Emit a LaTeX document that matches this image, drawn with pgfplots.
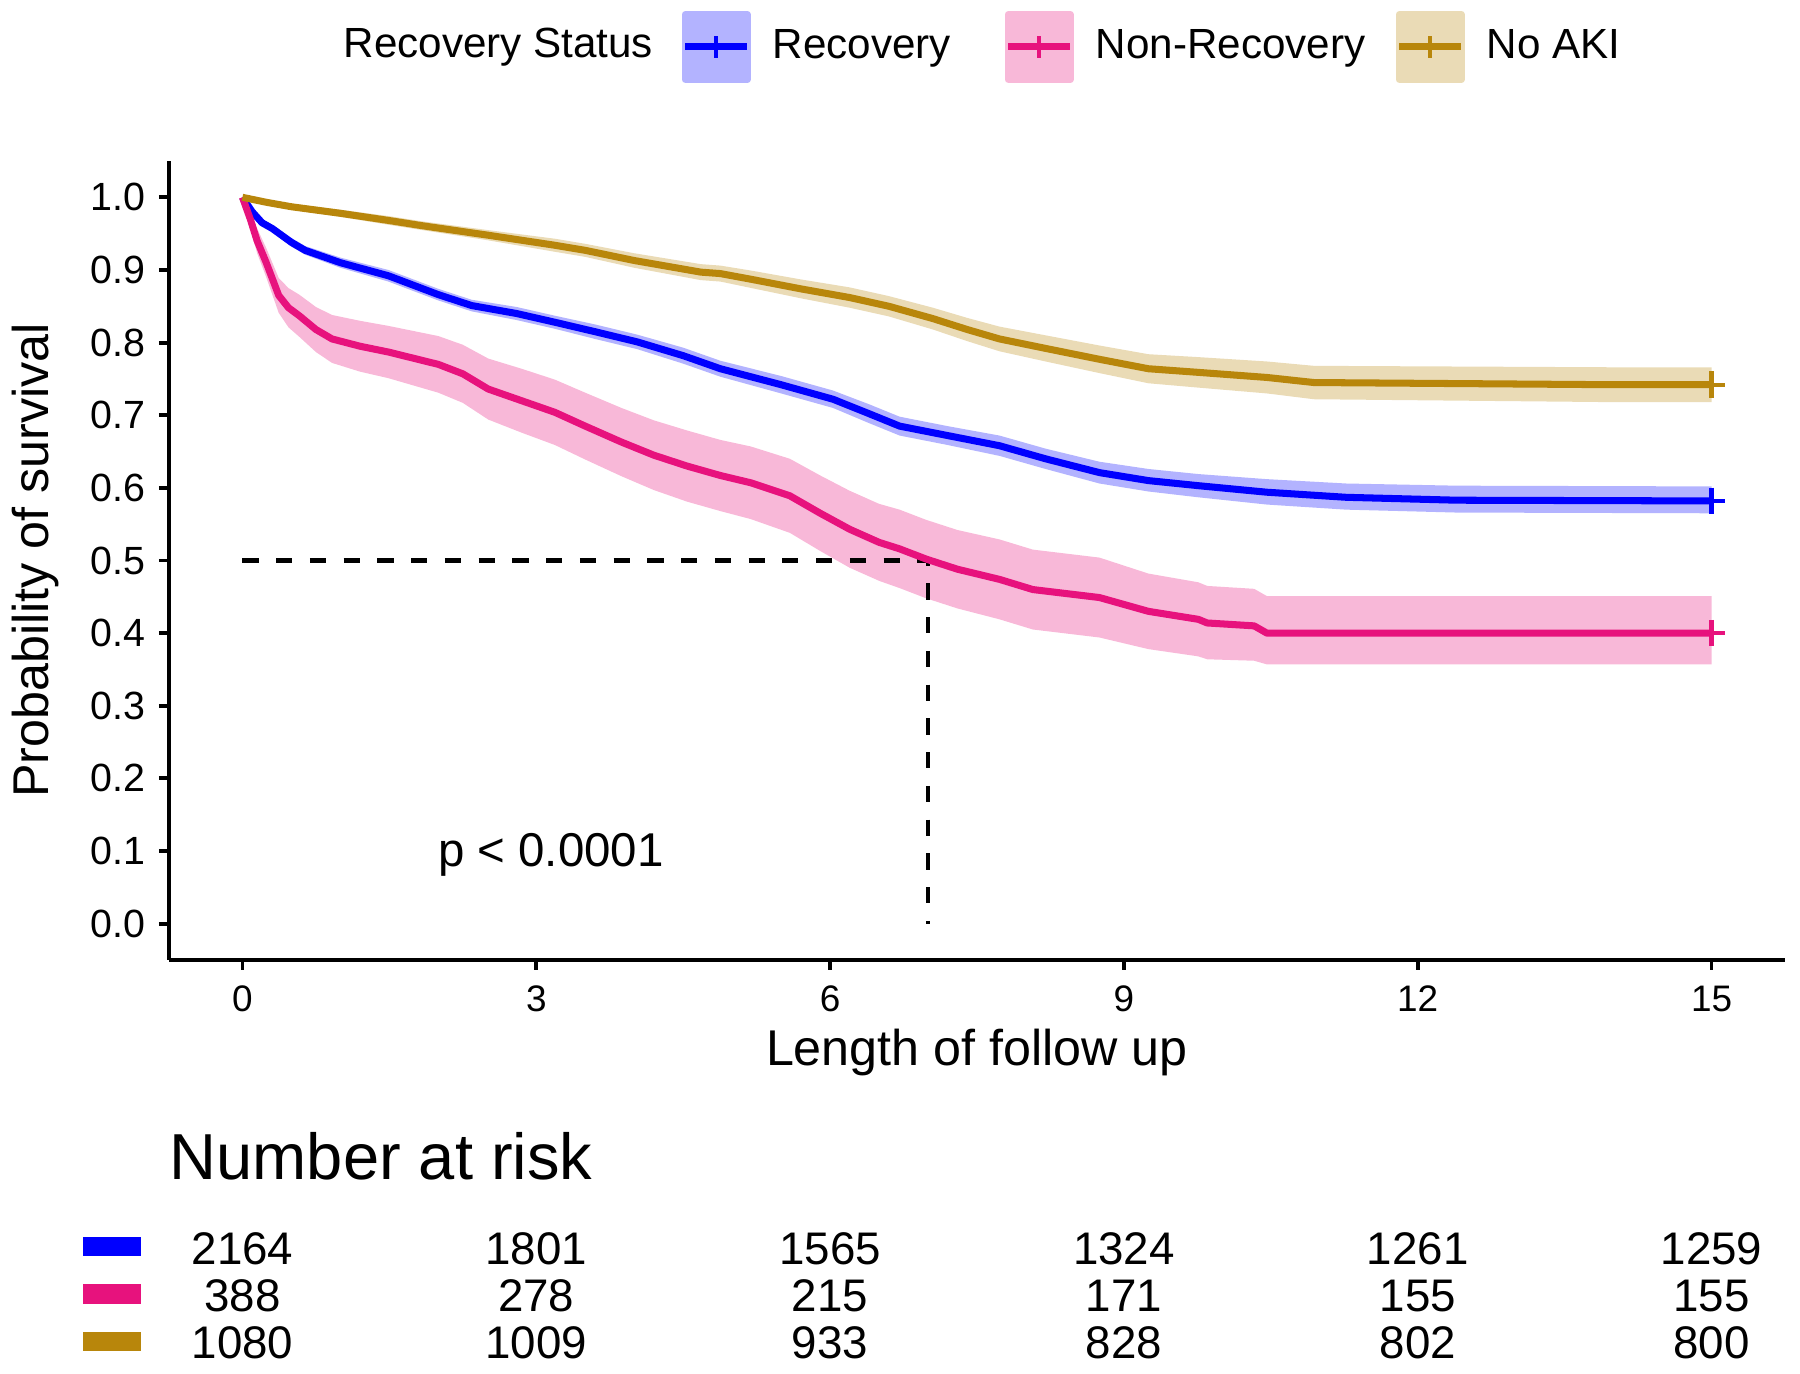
\documentclass[border=0pt]{standalone}
\usepackage{pgfplots}
\pgfplotsset{compat=1.18}
\usepgfplotslibrary{fillbetween}
\usepackage{pgfplotstable}
\usepackage{fontspec}
\setmainfont{Liberation Sans}
\definecolor{cblue}{HTML}{0000FF}
\definecolor{cpink}{HTML}{E7127D}
\definecolor{cgold}{HTML}{B8860B}
\definecolor{cblueband}{HTML}{B3B3FF}
\definecolor{cpinkband}{HTML}{F8B8D8}
\definecolor{cgoldband}{HTML}{EADBB6}

\pgfplotstableread{
t s lo hi
0 1.000 1.000 1.000
0.1 0.980 0.977 0.983
0.2 0.965 0.961 0.969
0.305 0.957 0.952 0.962
0.5 0.938 0.932 0.944
0.64 0.927 0.921 0.933
1.0 0.910 0.903 0.917
1.49 0.892 0.884 0.900
2.0 0.866 0.858 0.874
2.34 0.851 0.843 0.859
2.8 0.840 0.831 0.849
3.19 0.828 0.819 0.837
3.6 0.815 0.805 0.825
4.03 0.801 0.791 0.811
4.5 0.782 0.771 0.793
4.88 0.764 0.753 0.775
5.5 0.742 0.730 0.754
6.03 0.722 0.710 0.734
6.4 0.702 0.689 0.715
6.71 0.685 0.672 0.698
7.2 0.672 0.659 0.685
7.73 0.658 0.644 0.672
8.2 0.640 0.626 0.654
8.75 0.621 0.606 0.636
9.25 0.610 0.595 0.626
9.76 0.603 0.587 0.619
10.46 0.594 0.577 0.612
11.27 0.587 0.570 0.606
12.4 0.583 0.566 0.603
15 0.582 0.565 0.602
}\tblue

\pgfplotstableread{
t s lo hi
0 1.000 1.000 1.000
0.08 0.970 0.958 0.982
0.15 0.940 0.923 0.957
0.24 0.911 0.891 0.931
0.37 0.865 0.841 0.889
0.47 0.848 0.821 0.875
0.58 0.837 0.808 0.866
0.75 0.818 0.787 0.849
0.915 0.805 0.772 0.838
1.2 0.795 0.760 0.830
1.49 0.787 0.751 0.823
2.0 0.770 0.731 0.809
2.25 0.757 0.717 0.797
2.51 0.736 0.694 0.778
2.85 0.720 0.676 0.764
3.19 0.704 0.659 0.749
3.5 0.685 0.639 0.731
3.87 0.663 0.616 0.710
4.2 0.645 0.597 0.693
4.54 0.630 0.581 0.679
4.88 0.617 0.568 0.666
5.19 0.607 0.557 0.657
5.59 0.589 0.538 0.640
5.9 0.565 0.513 0.617
6.2 0.543 0.490 0.596
6.5 0.525 0.472 0.578
6.71 0.516 0.462 0.570
6.98 0.502 0.448 0.556
7.3 0.488 0.434 0.542
7.73 0.474 0.419 0.529
8.07 0.460 0.405 0.515
8.75 0.449 0.394 0.504
9.25 0.430 0.378 0.482
9.76 0.419 0.368 0.470
9.85 0.414 0.364 0.465
10.33 0.410 0.362 0.461
10.46 0.400 0.357 0.451
15 0.400 0.357 0.451
}\tpink

\pgfplotstableread{
t s lo hi
0 1.000 1.000 1.000
0.25 0.993 0.990 0.996
0.5 0.987 0.983 0.991
1.0 0.978 0.973 0.983
1.5 0.968 0.962 0.974
1.83 0.961 0.955 0.967
2.5 0.948 0.941 0.955
3.19 0.934 0.925 0.943
3.5 0.927 0.918 0.936
4.0 0.913 0.903 0.923
4.68 0.897 0.886 0.908
4.88 0.895 0.884 0.906
5.2 0.887 0.875 0.899
5.7 0.874 0.861 0.887
6.2 0.862 0.848 0.876
6.6 0.850 0.836 0.864
7.05 0.833 0.818 0.848
7.4 0.818 0.802 0.834
7.73 0.805 0.788 0.822
8.2 0.792 0.774 0.810
8.75 0.777 0.758 0.796
9.25 0.764 0.744 0.784
9.76 0.759 0.738 0.780
10.46 0.752 0.730 0.774
10.94 0.745 0.722 0.768
14.0 0.742 0.718 0.766
15 0.742 0.718 0.766
}\tgold

\begin{document}
\begin{tikzpicture}
\path (0,0) rectangle (18cm,13.73cm);
\begin{axis}[
  at={(1.69cm,4.13cm)}, anchor=south west,
  scale only axis, width=16.16cm, height=7.99cm,
  xmin=-0.75, xmax=15.75, ymin=-0.05, ymax=1.05,
  axis x line*=bottom, axis y line*=left,
  axis line style={line width=1.1pt, black},
  tick align=outside, major tick length=0.1cm,
  tick style={line width=1.1pt, black},
  xtick={0,3,6,9,12,15},
  ytick={0,0.1,0.2,0.3,0.4,0.5,0.6,0.7,0.8,0.9,1.0},
  /pgf/number format/assume math mode=true,
  ticklabel style={inner sep=0pt},
  xticklabel style={anchor=north, yshift=-0.15cm, font=\fontsize{10.5}{12}\selectfont},
  yticklabel style={anchor=east, xshift=-0.13cm, font=\fontsize{11.2}{13}\selectfont,
    /pgf/number format/fixed, /pgf/number format/fixed zerofill, /pgf/number format/precision=1},
  xlabel={Length of follow up},
  ylabel={Probability of survival},
  xlabel style={at={(axis description cs:0.5,-0.116)}, anchor=center, font=\fontsize{14.3}{17}\selectfont, inner sep=0pt},
  ylabel style={at={(axis description cs:-0.0829,0.5)}, anchor=center, font=\fontsize{14.3}{17}\selectfont, inner sep=0pt},
  clip=false,
  legend columns=3,
  legend cell align=left,
  legend style={at={(axis description cs:0.3168,1.1427)}, anchor=west, draw=none, fill=none, inner sep=0pt,
    font=\fontsize{12}{14}\selectfont, nodes={inner sep=0pt},
    /tikz/every odd column/.append style={column sep=0.22cm}},
]
% confidence bands
\addplot[draw=none, name path=bhi, forget plot] table[x=t,y=hi]{\tblue};
\addplot[draw=none, name path=blo, forget plot] table[x=t,y=lo]{\tblue};
\addplot[fill=cblueband, draw=none, forget plot] fill between[of=bhi and blo];
\addplot[draw=none, name path=phi, forget plot] table[x=t,y=hi]{\tpink};
\addplot[draw=none, name path=plo, forget plot] table[x=t,y=lo]{\tpink};
\addplot[fill=cpinkband, draw=none, forget plot] fill between[of=phi and plo];
\addplot[draw=none, name path=ghi, forget plot] table[x=t,y=hi]{\tgold};
\addplot[draw=none, name path=glo, forget plot] table[x=t,y=lo]{\tgold};
\addplot[fill=cgoldband, draw=none, forget plot] fill between[of=ghi and glo];

% median lines
\addplot[black, line width=1.3pt, dash pattern=on 4.6pt off 5.0pt, forget plot] coordinates {(0,0.5) (7,0.5) (7,0)};

% survival curves
\addplot[cblue, line width=2pt, line join=round,
  legend image code/.code={\fill[cblueband] (0cm,-0.325cm) rectangle (0.62cm,0.325cm);
    \draw[cblue,line width=2pt] (0cm,0cm) -- (0.62cm,0cm);
    \draw[cblue,line width=1.1pt] (0.31cm,-0.11cm) -- (0.31cm,0.11cm);}]
  table[x=t,y=s]{\tblue};
\addlegendentry{\makebox[2.32cm][l]{Recovery}}
\addplot[cpink, line width=2pt, line join=round,
  legend image code/.code={\fill[cpinkband] (0cm,-0.325cm) rectangle (0.62cm,0.325cm);
    \draw[cpink,line width=2pt] (0cm,0cm) -- (0.62cm,0cm);
    \draw[cpink,line width=1.1pt] (0.31cm,-0.11cm) -- (0.31cm,0.11cm);}]
  table[x=t,y=s]{\tpink};
\addlegendentry{\makebox[3.0cm][l]{Non-Recovery}}
\addplot[cgold, line width=2pt, line join=round,
  legend image code/.code={\fill[cgoldband] (0cm,-0.325cm) rectangle (0.62cm,0.325cm);
    \draw[cgold,line width=2pt] (0cm,0cm) -- (0.62cm,0cm);
    \draw[cgold,line width=1.1pt] (0.31cm,-0.11cm) -- (0.31cm,0.11cm);}]
  table[x=t,y=s]{\tgold};
\addlegendentry{No AKI}

% censor marks at end
\addplot[only marks, mark=+, mark size=3.8pt, mark options={cblue, line width=1.2pt}, forget plot] coordinates {(15,0.582)};
\addplot[only marks, mark=+, mark size=3.8pt, mark options={cpink, line width=1.2pt}, forget plot] coordinates {(15,0.400)};
\addplot[only marks, mark=+, mark size=3.8pt, mark options={cgold, line width=1.2pt}, forget plot] coordinates {(15,0.742)};

% p-value
\node[font=\fontsize{13.5}{16}\selectfont, anchor=center] at (axis cs:3.15,0.095) {p < 0.0001};

% legend title
\node[anchor=east, inner sep=0pt, font=\fontsize{12}{14}\selectfont] at (axis description cs:0.300,1.1427) {Recovery Status};

% number at risk table
\node[anchor=west, inner sep=0pt, font=\fontsize{18.5}{22}\selectfont] at (axis cs:-0.75,-0.3200) {Number at risk};
\addplot[only marks, mark=square*, mark size=2.6pt, mark options={fill=cblue, draw=cblue, line width=0pt, xscale=3.1}, forget plot] coordinates {(-1.332,-0.4445)};
\addplot[only marks, mark=square*, mark size=2.6pt, mark options={fill=cpink, draw=cpink, line width=0pt, xscale=3.1}, forget plot] coordinates {(-1.332,-0.5100)};
\addplot[only marks, mark=square*, mark size=2.6pt, mark options={fill=cgold, draw=cgold, line width=0pt, xscale=3.1}, forget plot] coordinates {(-1.332,-0.5750)};
\begin{scope}[every node/.style={font=\fontsize{13}{15}\selectfont, anchor=center, inner sep=0pt}]
\node at (axis cs:0,-0.4473) {2164};
\node at (axis cs:3,-0.4473) {1801};
\node at (axis cs:6,-0.4473) {1565};
\node at (axis cs:9,-0.4473) {1324};
\node at (axis cs:12,-0.4473) {1261};
\node at (axis cs:15,-0.4473) {1259};
\node at (axis cs:0,-0.5127) {388};
\node at (axis cs:3,-0.5127) {278};
\node at (axis cs:6,-0.5127) {215};
\node at (axis cs:9,-0.5127) {171};
\node at (axis cs:12,-0.5127) {155};
\node at (axis cs:15,-0.5127) {155};
\node at (axis cs:0,-0.5775) {1080};
\node at (axis cs:3,-0.5775) {1009};
\node at (axis cs:6,-0.5775) {933};
\node at (axis cs:9,-0.5775) {828};
\node at (axis cs:12,-0.5775) {802};
\node at (axis cs:15,-0.5775) {800};
\end{scope}
\end{axis}
\end{tikzpicture}
\end{document}
